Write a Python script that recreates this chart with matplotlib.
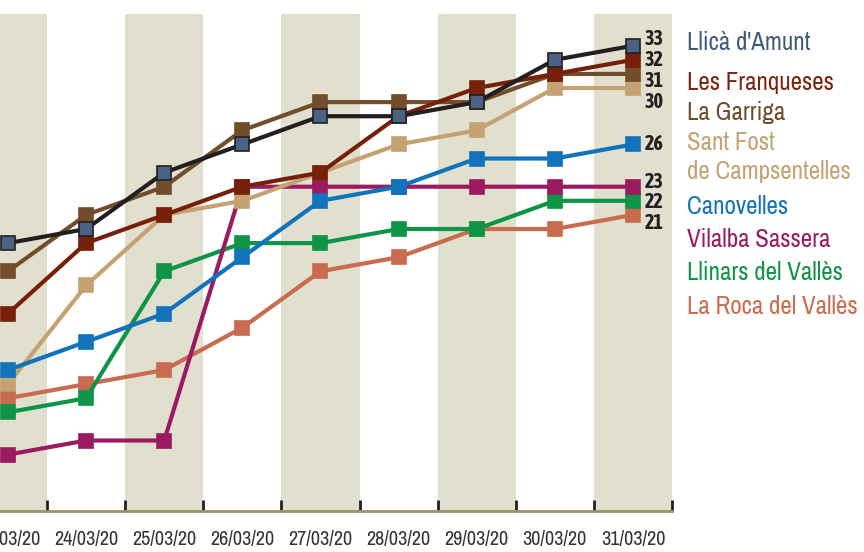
import numpy as np
import matplotlib.pyplot as plt
from matplotlib import font_manager as fm

# Dates on the x axis
dates = ['23/03/20', '24/03/20', '25/03/20', '26/03/20', '27/03/20',
         '28/03/20', '29/03/20', '30/03/20', '31/03/20']

# Values per municipality
llica = [19, 20, 24, 26, 28, 28, 29, 32, 33]
franqueses = [14, 19, 21, 23, 24, 28, 30, 31, 32]
garriga = [17, 21, 23, 27, 29, 29, 29, 31, 31]
sant_fost = [9, 16, 21, 22, 24, 26, 27, 30, 30]
canovelles = [10, 12, 14, 18, 22, 23, 25, 25, 26]
vilalba = [4, 5, 5, 23, 23, 23, 23, 23, 23]
llinars = [7, 8, 17, 19, 19, 20, 20, 22, 22]
la_roca = [8, 9, 10, 13, 17, 18, 20, 20, 21]

names = ["Llicà d'Amunt", "Les Franqueses", "La Garriga", "Sant Fost\nde Campsentelles",
         "Canovelles", "Vilalba Sassera", "Llinars del Vallès", "La Roca del Vallès"]


def is_bold(w):
    if isinstance(w, str):
        return 'bold' in w.lower() or 'black' in w.lower() or 'heavy' in w.lower()
    return w >= 600


# Pick a condensed font if one is installed (prefer one with a bold face)
entries = fm.fontManager.ttflist
condensed = sorted({f.name for f in entries if 'Narrow' in f.name or 'Condensed' in f.name})
with_bold = [n for n in condensed if any(f.name == n and is_bold(f.weight) for f in entries)]
if condensed:
    font = [condensed[0], 'DejaVu Sans']
    bold_font = [with_bold[0] if with_bold else condensed[0], 'DejaVu Sans']
    tick_fs, value_fs, legend_fs = 14.5, 14.5, 18
else:
    font = bold_font = ['Roboto', 'DejaVu Sans']
    tick_fs, value_fs, legend_fs = 11, 12, 15

fig = plt.figure(figsize=(8.64, 5.52), dpi=100)
ax = fig.add_axes([0, 41 / 552, 672 / 864, 497 / 552])

x = np.arange(len(dates))

# Alternating shaded bands
for i in range(0, len(dates), 2):
    ax.axvspan(i - 0.5, i + 0.5, color='#e1e0cf', lw=0, zorder=0)

# Series drawn from bottom to top
series = [
    (la_roca, '#c96b4e', '#c96b4e', '#c96b4e'),
    (llinars, '#0e9446', '#0e9446', '#0e9446'),
    (vilalba, '#9b1b62', '#9b1b62', '#9b1b62'),
    (sant_fost, '#c4a271', '#c4a271', '#c4a271'),
    (canovelles, '#1273ba', '#1273ba', '#1273ba'),
    (garriga, '#714d2b', '#714d2b', '#714d2b'),
    (franqueses, '#76200a', '#76200a', '#76200a'),
    (llica, '#231f20', '#4a6284', '#231f20'),
]
for z, (vals, lc, fc, ec) in enumerate(series):
    ax.plot(x, vals, color=lc, lw=3, marker='s', markersize=10.5,
            markerfacecolor=fc, markeredgecolor=ec, markeredgewidth=1.2,
            zorder=2 + z, clip_on=False)

# End value labels (nudged apart where they would overlap)
last_vals = [llica[-1], franqueses[-1], garriga[-1], sant_fost[-1],
             canovelles[-1], vilalba[-1], llinars[-1], la_roca[-1]]
label_y = [33.45, 32, 30.5, 29.0, 26, 23.35, 21.9, 20.45]
for v, ly in zip(last_vals, label_y):
    ax.text(8.15, ly, str(v), fontsize=value_fs, fontweight='bold', color='#231f20',
            va='center', ha='left', family=bold_font, clip_on=False)

ax.set_xlim(-8 / 78, 8.5)
ax.set_ylim(0, 35.25)

# Axis styling
for s in ['top', 'right', 'left']:
    ax.spines[s].set_visible(False)
ax.spines['bottom'].set_color('#9a9468')
ax.spines['bottom'].set_linewidth(2)
ax.set_yticks([])
ax.set_xticks(x)
ax.set_xticklabels(dates, fontsize=tick_fs, color='#333333', family=font)
ax.tick_params(axis='x', which='major', length=0, pad=14)
ax.set_xticks(np.arange(0.5, 8.6, 1), minor=True)
ax.tick_params(axis='x', which='minor', direction='in', length=8, width=2, color='#231f20')

# Custom legend at the right
legend_colors = ['#3f5a7a', '#7a2410', '#6f4a2a', '#c4a271',
                 '#1273ba', '#9b1b62', '#0e9446', '#c96b4e']
legend_y = [42, 83, 113, 157, 207, 240, 272, 306]
for name, c, py in zip(names, legend_colors, legend_y):
    fig.text(687 / 864, 1 - py / 552, name, fontsize=legend_fs, color=c, family=font,
             va='center', ha='left', linespacing=1.3)

fig.savefig('out.png', dpi=100)
